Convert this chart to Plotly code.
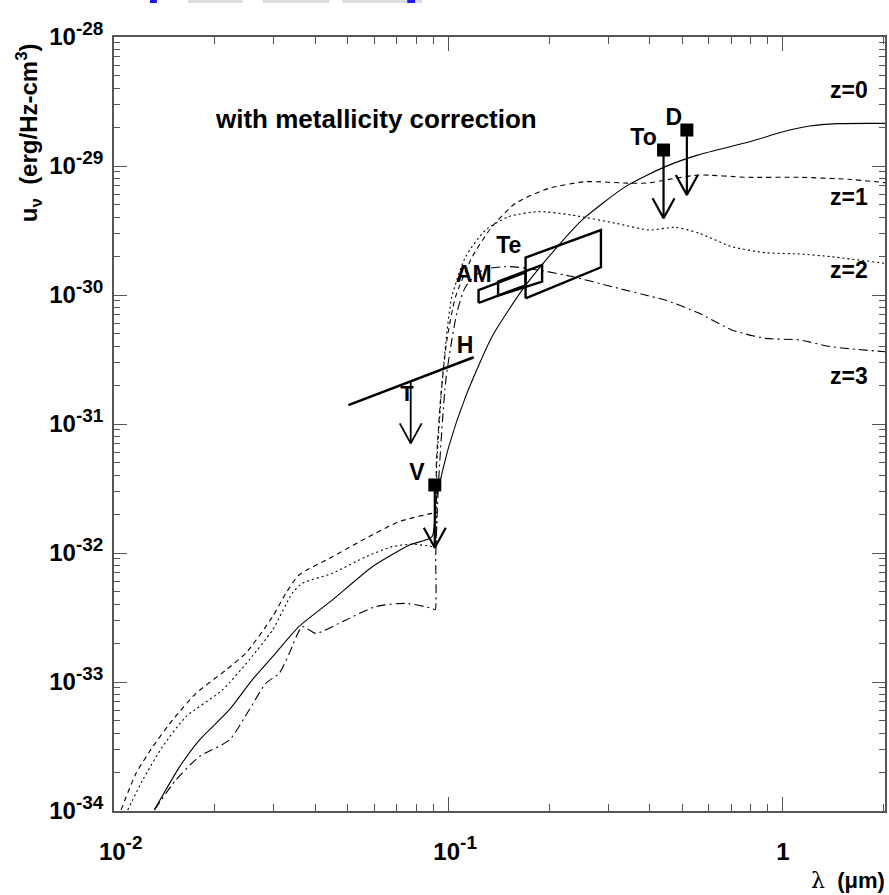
import numpy as np
import plotly.graph_objects as go

# ---------------------------------------------------------------------------
# Model spectra: rest wavelength (micron) and energy density u_nu (erg/Hz-cm^3)
# ---------------------------------------------------------------------------
lam_z0 = [0.0132, 0.0157, 0.0180, 0.0221, 0.0259, 0.0298, 0.0357, 0.0450, 0.0592,
          0.0762, 0.0893, 0.0916, 0.1002, 0.1125, 0.1349, 0.166, 0.1995, 0.2506,
          0.3381, 0.4446, 0.5585, 0.7943, 1.0, 1.2, 1.45, 2.02]
u_z0 = [1.02e-34, 2.20e-34, 3.55e-34, 6.07e-34, 1.04e-33, 1.57e-33, 2.69e-33, 4.33e-33,
        7.83e-33, 1.15e-32, 1.34e-32, 2.51e-32, 6.67e-32, 1.63e-31, 4.75e-31, 1.09e-30,
        1.98e-30, 3.81e-30, 6.92e-30, 9.89e-30, 1.22e-29, 1.54e-29, 1.84e-29, 2.04e-29,
        2.13e-29, 2.14e-29]

lam_z1 = [0.0105, 0.01164, 0.01306, 0.01496, 0.01758, 0.02163, 0.02477, 0.02979, 0.03266,
          0.03573, 0.04498, 0.05662, 0.07112, 0.08933, 0.0912, 0.0920, 0.0948, 0.0989,
          0.1050, 0.1178, 0.1349, 0.1585, 0.1995, 0.2564, 0.3532, 0.398, 0.4446, 0.5585,
          0.787, 1.121, 1.567, 2.02]
u_z1 = [1.02e-34, 1.96e-34, 3.15e-34, 5.07e-34, 8.17e-34, 1.24e-33, 1.67e-33, 3.21e-33,
        4.88e-33, 6.75e-33, 9.35e-33, 1.30e-32, 1.75e-32, 2.03e-32, 2.04e-32, 5.01e-32,
        1.62e-31, 4.47e-31, 9.70e-31, 1.98e-30, 3.38e-30, 5.14e-30, 6.71e-30, 7.55e-30,
        7.35e-30, 7.40e-30, 7.78e-30, 8.51e-30, 8.17e-30, 8.17e-30, 7.89e-30, 7.43e-30]

lam_z2 = [0.01099, 0.01219, 0.01396, 0.01641, 0.02109, 0.02535, 0.02979, 0.03412, 0.03656,
          0.04498, 0.05662, 0.06792, 0.07798, 0.08933, 0.0912, 0.0923, 0.0968, 0.1023,
          0.1125, 0.1291, 0.1514, 0.1862, 0.2333, 0.3155, 0.399, 0.4764, 0.5623, 0.7031,
          0.8851, 1.121, 1.396, 2.02]
u_z2 = [1.02e-34, 1.74e-34, 3.15e-34, 5.38e-34, 8.67e-34, 1.48e-33, 2.53e-33, 4.88e-33,
        5.82e-33, 6.97e-33, 9.35e-33, 1.12e-32, 1.17e-32, 1.12e-32, 1.10e-32, 5.00e-32,
        2.97e-31, 9.64e-31, 1.98e-30, 3.19e-30, 4.05e-30, 4.43e-30, 4.17e-30, 3.60e-30,
        3.19e-30, 3.35e-30, 3.01e-30, 2.37e-30, 2.13e-30, 2.08e-30, 1.98e-30, 1.76e-30]

lam_z3 = [0.01321, 0.01531, 0.01799, 0.02213, 0.02535, 0.02844, 0.03119, 0.03342, 0.03656,
          0.04009, 0.04932, 0.06053, 0.07447, 0.08933, 0.0912, 0.0916, 0.0935, 0.0982,
          0.1059, 0.1125, 0.1262, 0.1514, 0.1862, 0.2339, 0.3083, 0.4055, 0.4446, 0.5623,
          0.7031, 0.8851, 1.121, 1.396, 2.02]
u_z3 = [1.02e-34, 1.74e-34, 2.64e-34, 3.55e-34, 6.07e-34, 9.77e-34, 1.17e-33, 1.67e-33,
        2.69e-33, 2.38e-33, 3.03e-33, 3.84e-33, 4.07e-33, 3.72e-33, 3.63e-33, 9.55e-33,
        3.72e-32, 2.19e-31, 7.24e-31, 1.16e-30, 1.56e-30, 1.66e-30, 1.56e-30, 1.39e-30,
        1.16e-30, 9.70e-31, 9.14e-31, 7.21e-31, 5.36e-31, 4.61e-31, 4.48e-31, 3.97e-31,
        3.63e-31]

curve_labels = ["z=0", "z=1", "z=2", "z=3"]
curve_dash = ["solid", "5px,4px", "2px,3px", "9px,4px,2px,4px"]

# ---------------------------------------------------------------------------
# Point measurements with upper-limit arrows
# ---------------------------------------------------------------------------
pt_names = ["V", "To", "D"]
pt_lam = [0.091, 0.4395, 0.516]
pt_u = [3.37e-32, 1.33e-29, 1.90e-29]
pt_limit = [1.10e-32, 3.94e-30, 5.96e-30]
pt_label_lam = [0.0805, 0.383, 0.472]
pt_label_u = [4.1e-32, 1.62e-29, 2.29e-29]

# H: power-law segment with an upper-limit arrow
h_lam = [0.0502, 0.119]
h_u = [1.40e-31, 3.29e-31]
h_arrow_lam = 0.0771
h_arrow_u = [2.14e-31, 7.08e-32]
h_label = ("H", 0.112, 3.95e-31)
t_mark = ("T", 0.0752, 1.66e-31)

# Band constraints (parallelograms): wavelength span and lower/upper values at each end
box_names = ["AM", "", "Te"]
box_lam_lo = [0.123, 0.1407, 0.170]
box_lam_hi = [0.170, 0.1905, 0.2856]
box_u_lo = [[8.67e-31, 1.19e-30], [9.89e-31, 1.27e-30], [9.42e-31, 1.64e-30]]
box_u_hi = [[1.09e-30, 1.50e-30], [1.27e-30, 1.71e-30], [1.95e-30, 3.19e-30]]
box_label_lam = [0.119, None, 0.1514]
box_label_u = [1.40e-30, None, 2.35e-30]

# Axis ticks
x_ticks = [0.01, 0.1, 1.0]
x_exps = ["-2", "-1", None]
y_exps = [-34, -33, -32, -31, -30, -29, -28]

# ---------------------------------------------------------------------------
W, H = 889, 895
ML, MR, MT, MB = 114, 2, 37, 84
X_RANGE = [-2.0, 0.305]
Y_RANGE = [-34.0, -28.0]
PX_X = (W - ML - MR) / (X_RANGE[1] - X_RANGE[0])
PX_Y = (H - MT - MB) / (Y_RANGE[1] - Y_RANGE[0])
HEAD_HALF_W, HEAD_LEN = 11, 20
FONT = "Liberation Sans, Arial, Helvetica, sans-serif"
SUP = "<sup><span style='font-size:19px'>{}</span></sup>"


def down_arrow(lam, u_top, u_tip, width=2.2):
    hw = HEAD_HALF_W / PX_X
    hl = HEAD_LEN / PX_Y
    xs = [lam, lam, None, lam * 10 ** -hw, lam, lam * 10 ** hw]
    ys = [u_top, u_tip, None, u_tip * 10 ** hl, u_tip, u_tip * 10 ** hl]
    return go.Scatter(x=xs, y=ys, mode="lines", line=dict(color="black", width=width),
                      showlegend=False, hoverinfo="skip")


def label(text, x, y, size=23):
    return go.Scatter(x=[x], y=[y], mode="text", text=[text], textposition="middle center",
                      textfont=dict(family=FONT, size=size, color="black", weight="bold"),
                      showlegend=False, hoverinfo="skip")


fig = go.Figure()

for lam, u, dash in zip([lam_z0, lam_z1, lam_z2, lam_z3], [u_z0, u_z1, u_z2, u_z3], curve_dash):
    fig.add_trace(go.Scatter(x=lam, y=u, mode="lines",
                             line=dict(color="black", width=1.1, dash=dash,
                                       shape="spline", smoothing=0.6),
                             showlegend=False, hoverinfo="skip"))

# parallelogram band constraints
for lo, hi, ulo, uhi in zip(box_lam_lo, box_lam_hi, box_u_lo, box_u_hi):
    fig.add_trace(go.Scatter(x=[lo, lo, hi, hi, lo], y=[ulo[0], uhi[0], uhi[1], ulo[1], ulo[0]],
                             mode="lines", line=dict(color="black", width=2.4),
                             showlegend=False, hoverinfo="skip"))
for name, lx, ly in zip(box_names, box_label_lam, box_label_u):
    if name:
        fig.add_trace(label(name, lx, ly))

# H segment and its limit
fig.add_trace(go.Scatter(x=h_lam, y=h_u, mode="lines", line=dict(color="black", width=2.6),
                         showlegend=False, hoverinfo="skip"))
fig.add_trace(down_arrow(h_arrow_lam, h_arrow_u[0], h_arrow_u[1], width=1.8))
fig.add_trace(label(h_label[0], h_label[1], h_label[2]))
fig.add_trace(label(t_mark[0], t_mark[1], t_mark[2], size=22))

# point measurements
for lam, u, lim in zip(pt_lam, pt_u, pt_limit):
    fig.add_trace(down_arrow(lam, u, lim))
fig.add_trace(go.Scatter(x=pt_lam, y=pt_u, mode="markers",
                         marker=dict(symbol="square", size=13, color="black"),
                         showlegend=False, hoverinfo="skip"))
for name, lx, ly in zip(pt_names, pt_label_lam, pt_label_u):
    fig.add_trace(label(name, lx, ly))


def px2paper(px, py):
    return (px - ML) / (W - ML - MR), (H - MB - py) / (H - MT - MB)


annotations = []
for text, py in zip(curve_labels, [90, 197, 270, 376]):
    xp, yp = px2paper(851, py)
    annotations.append(dict(text=text, x=xp, y=yp, xref="paper", yref="paper",
                            showarrow=False, xanchor="center", yanchor="middle",
                            font=dict(family=FONT, size=23, color="black", weight="bold")))

xp, yp = px2paper(377, 119)
annotations.append(dict(text="with metallicity correction", x=xp, y=yp, xref="paper", yref="paper",
                        showarrow=False, xanchor="center", yanchor="middle",
                        font=dict(family=FONT, size=26, color="black", weight="bold")))

xp, yp = px2paper(29, 133)
annotations.append(dict(text="u<sub>ν</sub>  (erg/Hz-cm<sup>3</sup>)", x=xp, y=yp,
                        xref="paper", yref="paper", textangle=-90, showarrow=False,
                        xanchor="center", yanchor="middle",
                        font=dict(family=FONT, size=24, color="black", weight="bold")))

xp, yp = px2paper(889, 880)
annotations.append(dict(text="<span style='font-family:DejaVu Serif;font-weight:normal'>λ</span>  (μm)",
                        x=xp, y=yp, xref="paper", yref="paper", showarrow=False,
                        xanchor="right", yanchor="middle",
                        font=dict(family=FONT, size=22, color="black", weight="bold")))

# faint header fragments along the top edge
shapes = []
for x0, x1 in [(188, 243), (263, 330), (343, 410), (417, 423)]:
    a0, b0 = px2paper(x0, 0)
    a1, b1 = px2paper(x1, 3)
    shapes.append(dict(type="rect", xref="paper", yref="paper", x0=a0, x1=a1, y0=b1, y1=b0,
                       line=dict(width=0), fillcolor="#dcdcdc"))
for x0, x1 in [(150, 157), (408, 416)]:
    a0, b0 = px2paper(x0, 0)
    a1, b1 = px2paper(x1, 3)
    shapes.append(dict(type="rect", xref="paper", yref="paper", x0=a0, x1=a1, y0=b1, y1=b0,
                       line=dict(width=0), fillcolor="#1a1aff"))

x_minor = [k * 10.0 ** e for e in (-2, -1, 0) for k in range(2, 10) if k * 10.0 ** e <= 2.02]
y_minor = [k * 10.0 ** e for e in range(-34, -28) for k in range(2, 10)]

x_ticktext = ["\u200710" + SUP.format(e) if e else "1" for e in x_exps]
y_ticktext = ["10" + SUP.format(e) for e in y_exps]

axis_common = dict(type="log", showline=True, linecolor="#555", linewidth=1.5, mirror="ticks",
                   ticks="inside", tickcolor="#555", tickwidth=1.2, showgrid=False, zeroline=False,
                   tickfont=dict(family=FONT, size=24, color="black", weight="bold"))

fig.update_layout(
    width=W, height=H,
    margin=dict(l=ML, r=MR, t=MT, b=MB, pad=0),
    paper_bgcolor="white", plot_bgcolor="white",
    showlegend=False,
    annotations=annotations,
    shapes=shapes,
    xaxis=dict(**axis_common, range=X_RANGE, tickmode="array", tickvals=x_ticks,
               ticktext=x_ticktext, ticklen=14, ticklabelstandoff=18,
               minor=dict(tickmode="array", tickvals=x_minor, ticks="inside", ticklen=7,
                          tickcolor="#555", tickwidth=1.2)),
    yaxis=dict(**axis_common, range=Y_RANGE, tickmode="array",
               tickvals=[10.0 ** e for e in y_exps],
               ticktext=y_ticktext, ticklen=13, ticklabelstandoff=4,
               minor=dict(tickmode="array", tickvals=y_minor, ticks="inside", ticklen=6,
                          tickcolor="#555", tickwidth=1.2)),
)

fig.write_html("out.html")
